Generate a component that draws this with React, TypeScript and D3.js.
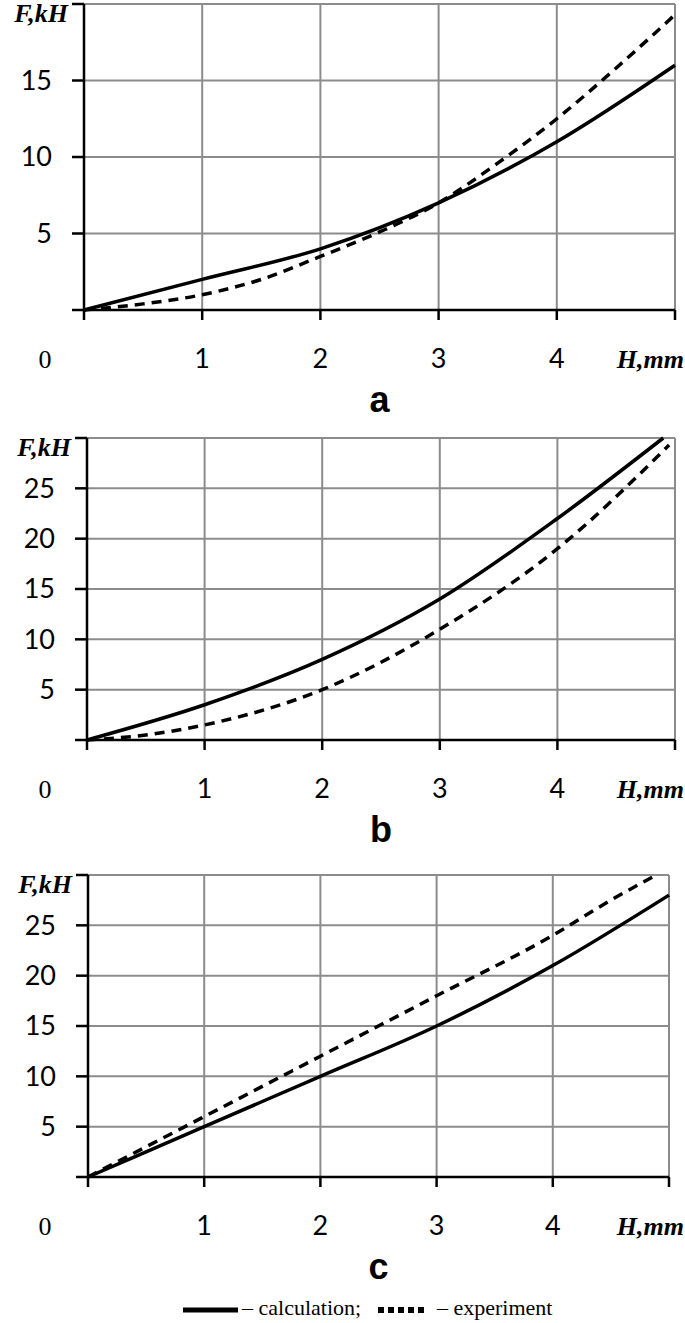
import { select, scaleLinear, line, curveMonotoneX, range } from "d3";
import React, { useEffect, useRef } from "react";

// H, mm ticks (5 is replaced by the axis title)
const hTicks = [1, 2, 3, 4];

// panel a
const calcA: [number, number][] = [[0, 0], [1, 2], [2, 4], [3, 7], [4, 11], [5, 16]];
const expA: [number, number][] = [
  [0, 0], [0.5, 0.4], [1, 1], [1.5, 2], [2, 3.5], [2.5, 5.1],
  [3, 7], [3.5, 9.6], [4, 12.5], [4.5, 15.8], [5, 19.3]
];

// panel b
const calcB: [number, number][] = [[0, 0], [1, 3.5], [2, 8], [3, 14], [4, 22], [4.9, 30]];
const expB: [number, number][] = [[0, 0], [0.5, 0.5], [1, 1.5], [2, 5], [3, 11], [4, 19], [4.95, 29.3]];

// panel c
const calcC: [number, number][] = [[0, 0], [1, 5], [2, 10], [3, 15], [4, 21], [5, 28]];
const expC: [number, number][] = [[0, 0], [1, 6], [2, 12], [3, 18], [4, 24], [4.5, 27.5], [4.89, 30]];

const panels = [
  { letter: "a", yMax: 20, left: 84, right: 675, top: 4, bottom: 310, calc: calcA, exp: expA },
  { letter: "b", yMax: 30, left: 87, right: 675, top: 438, bottom: 740, calc: calcB, exp: expB },
  { letter: "c", yMax: 30, left: 88, right: 669, top: 875, bottom: 1177, calc: calcC, exp: expC }
];

const tickFont = "Lato, 'Open Sans', sans-serif";
const serif = "'Liberation Serif', 'DejaVu Serif', serif";

function Panel({ p }) {
  const gRef = useRef(null);

  useEffect(() => {
    const g = select(gRef.current);
    g.selectAll("*").remove();

    const x = scaleLinear().domain([0, 5]).range([p.left, p.right]);
    const y = scaleLinear().domain([0, p.yMax]).range([p.bottom, p.top]);
    const yTicks = range(5, p.yMax + 1, 5);

    // grid
    g.selectAll(".vgrid")
      .data([1, 2, 3, 4, 5])
      .join("line")
      .attr("x1", d => x(d))
      .attr("x2", d => x(d))
      .attr("y1", y(p.yMax))
      .attr("y2", y(0))
      .attr("stroke", "#8c8c8c")
      .attr("stroke-width", 2);
    g.selectAll(".hgrid")
      .data(yTicks)
      .join("line")
      .attr("x1", x(0))
      .attr("x2", x(5))
      .attr("y1", d => y(d))
      .attr("y2", d => y(d))
      .attr("stroke", "#8c8c8c")
      .attr("stroke-width", 2);

    // axes
    g.append("line")
      .attr("x1", x(0)).attr("x2", x(0))
      .attr("y1", y(p.yMax)).attr("y2", y(0))
      .attr("stroke", "#000").attr("stroke-width", 2.5);
    g.append("line")
      .attr("x1", x(0) - 12).attr("x2", x(5))
      .attr("y1", y(0)).attr("y2", y(0))
      .attr("stroke", "#000").attr("stroke-width", 2.5);

    // y ticks + labels
    g.selectAll(".ytick")
      .data(yTicks)
      .join("line")
      .attr("x1", x(0) - 12)
      .attr("x2", x(0))
      .attr("y1", d => y(d))
      .attr("y2", d => y(d))
      .attr("stroke", "#000")
      .attr("stroke-width", 2.5);
    g.selectAll(".ylab")
      .data(yTicks.filter(d => d < p.yMax))
      .join("text")
      .attr("x", x(0) - 32)
      .attr("y", d => y(d))
      .attr("dy", "0.35em")
      .attr("text-anchor", "end")
      .attr("font-family", tickFont)
      .attr("font-size", 27)
      .text(d => d);

    // x ticks + labels
    g.selectAll(".xtick")
      .data([0, 1, 2, 3, 4, 5])
      .join("line")
      .attr("x1", d => x(d))
      .attr("x2", d => x(d))
      .attr("y1", y(0))
      .attr("y2", y(0) + 10)
      .attr("stroke", "#000")
      .attr("stroke-width", 2.5);
    g.selectAll(".xlab")
      .data(hTicks)
      .join("text")
      .attr("x", d => x(d))
      .attr("y", y(0) + 58)
      .attr("text-anchor", "middle")
      .attr("font-family", tickFont)
      .attr("font-size", 27)
      .text(d => d);
    g.append("text")
      .attr("x", 45)
      .attr("y", y(0) + 58)
      .attr("text-anchor", "middle")
      .attr("font-family", serif)
      .attr("font-size", 26)
      .text("0");

    // axis titles
    g.append("text")
      .attr("x", x(0) - 16)
      .attr("y", y(p.yMax) + 18)
      .attr("text-anchor", "end")
      .attr("font-family", serif)
      .attr("font-weight", "bold")
      .attr("font-style", "italic")
      .attr("font-size", 26)
      .text("F,kH");
    g.append("text")
      .attr("x", 684)
      .attr("y", y(0) + 58)
      .attr("text-anchor", "end")
      .attr("font-family", serif)
      .attr("font-weight", "bold")
      .attr("font-style", "italic")
      .attr("font-size", 26)
      .text("H,mm");

    // curves
    const lineGen = line<[number, number]>()
      .x(d => x(d[0]))
      .y(d => y(d[1]))
      .curve(curveMonotoneX);
    g.append("path")
      .attr("d", lineGen(p.calc))
      .attr("fill", "none")
      .attr("stroke", "#000")
      .attr("stroke-width", 3.5);
    g.append("path")
      .attr("d", lineGen(p.exp))
      .attr("fill", "none")
      .attr("stroke", "#000")
      .attr("stroke-width", 3.5)
      .attr("stroke-dasharray", "10,7");

    // panel letter
    g.append("text")
      .attr("x", (x(0) + x(5)) / 2)
      .attr("y", y(0) + 102)
      .attr("text-anchor", "middle")
      .attr("font-family", "'Liberation Sans', Arial, sans-serif")
      .attr("font-weight", "bold")
      .attr("font-size", 36)
      .text(p.letter);
  }, [p]);

  return <g ref={gRef} />;
}

export default function App() {
  return (
    <svg
      width={685}
      height={1323}
      style={{ position: "absolute", left: 0, top: 0, background: "#fff" }}
    >
      {panels.map(p => (
        <Panel key={p.letter} p={p} />
      ))}
      {/* legend */}
      <line x1={183} x2={238} y1={1310} y2={1310} stroke="#000" strokeWidth={5} />
      <text x={242} y={1315} fontFamily={serif} fontSize={22}>– calculation;</text>
      <line x1={378} x2={427} y1={1310} y2={1310} stroke="#000" strokeWidth={6} strokeDasharray="6,4" />
      <text x={437} y={1315} fontFamily={serif} fontSize={22}>– experiment</text>
    </svg>
  );
}
